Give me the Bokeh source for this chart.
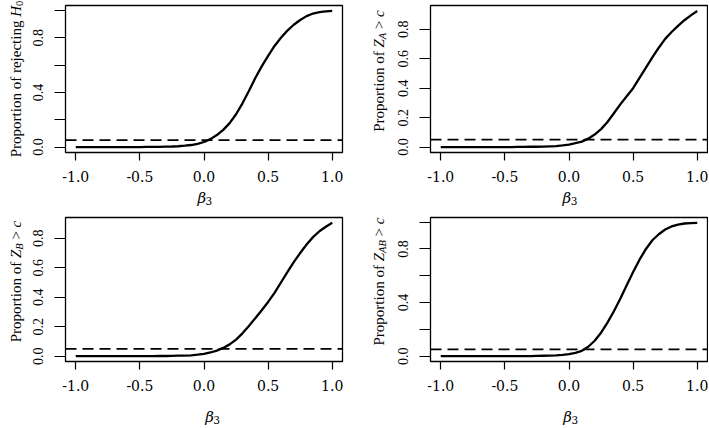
import math
from bokeh.plotting import figure
from bokeh.models import Range1d, FixedTicker, PrintfTickFormatter, Span
from bokeh.layouts import column, row
from bokeh.core.properties import value
from bokeh.embed import file_html
from bokeh.resources import INLINE

# ---------------- data ----------------
beta3 = [-1.00, -0.95, -0.90, -0.85, -0.80, -0.75, -0.70, -0.65, -0.60, -0.55,
         -0.50, -0.45, -0.40, -0.35, -0.30, -0.25, -0.20, -0.15, -0.10, -0.05,
         0.00, 0.05, 0.10, 0.15, 0.20, 0.25, 0.30, 0.35, 0.40, 0.45,
         0.50, 0.55, 0.60, 0.65, 0.70, 0.75, 0.80, 0.85, 0.90, 0.95, 1.00]

prop_reject_H0 = [0.000, 0.000, 0.000, 0.000, 0.000, 0.000, 0.000, 0.000, 0.000, 0.000,
                  0.000, 0.001, 0.001, 0.002, 0.003, 0.004, 0.006, 0.010, 0.015, 0.024,
                  0.037, 0.058, 0.088, 0.126, 0.175, 0.240, 0.320, 0.410, 0.505, 0.590,
                  0.667, 0.740, 0.800, 0.852, 0.895, 0.930, 0.958, 0.977, 0.988, 0.993, 0.996]

prop_ZA = [0.000, 0.000, 0.000, 0.000, 0.000, 0.000, 0.000, 0.000, 0.000, 0.000,
           0.000, 0.000, 0.001, 0.001, 0.002, 0.002, 0.003, 0.005, 0.007, 0.011,
           0.017, 0.026, 0.037, 0.057, 0.085, 0.122, 0.170, 0.230, 0.290, 0.345,
           0.400, 0.470, 0.540, 0.610, 0.675, 0.735, 0.782, 0.824, 0.862, 0.895, 0.925]

prop_ZB = [0.000, 0.000, 0.000, 0.000, 0.000, 0.000, 0.000, 0.000, 0.000, 0.000,
           0.000, 0.000, 0.000, 0.001, 0.001, 0.002, 0.003, 0.004, 0.006, 0.010,
           0.016, 0.025, 0.038, 0.056, 0.080, 0.112, 0.155, 0.205, 0.258, 0.312,
           0.368, 0.430, 0.500, 0.570, 0.638, 0.700, 0.758, 0.808, 0.848, 0.878, 0.905]

prop_ZAB = [0.000, 0.000, 0.000, 0.000, 0.000, 0.000, 0.000, 0.000, 0.000, 0.000,
            0.000, 0.000, 0.000, 0.001, 0.001, 0.002, 0.003, 0.004, 0.006, 0.010,
            0.016, 0.025, 0.040, 0.070, 0.115, 0.175, 0.250, 0.335, 0.428, 0.530,
            0.628, 0.720, 0.800, 0.865, 0.910, 0.945, 0.968, 0.982, 0.990, 0.993, 0.995]

alpha_level = 0.05

x_ticks = [-1.0, -0.5, 0.0, 0.5, 1.0]
y_ticks_sparse = [0.0, 0.4, 0.8]
y_ticks_sparse_minor = [0.2, 0.6, 1.0]
y_ticks_dense = [0.0, 0.2, 0.4, 0.6, 0.8]

# y-axis label pieces: (text, italic, subscript)
label_H0 = [("Proportion of rejecting ", False, False), ("H", True, False), ("0", False, True)]
label_ZA = [("Proportion of ", False, False), ("Z", True, False), ("A", True, True),
            (" > ", False, False), ("c", True, False)]
label_ZB = [("Proportion of ", False, False), ("Z", True, False), ("B", True, True),
            (" > ", False, False), ("c", True, False)]
label_ZAB = [("Proportion of ", False, False), ("Z", True, False), ("AB", True, True),
             (" > ", False, False), ("c", True, False)]

# ---------------- styling ----------------
SERIF = "Liberation Serif"
TICK_FONT_X = "DejaVu Serif"
MAIN = 15.0
SUB = 10.5
SUB_SHIFT = 3.5

TIMES_R = {' ': 250, 'P': 556, 'r': 333, 'o': 500, 'p': 500, 't': 278, 'i': 278, 'n': 500,
           'f': 333, 'e': 444, 'j': 278, 'c': 444, 'g': 500, '>': 564, '0': 500}
TIMES_I = {'H': 722, 'Z': 556, 'A': 611, 'B': 611, 'c': 444}


def text_width(t, size, italic):
    table = TIMES_I if italic else TIMES_R
    return sum(table.get(ch, 500) for ch in t) * size / 1000.0


def strip(w, h):
    s = figure(width=w, height=h, x_range=Range1d(0, w), y_range=Range1d(0, h),
               output_backend="svg", toolbar_location=None,
               x_axis_type=None, y_axis_type=None, min_border=0)
    s.outline_line_color = None
    s.background_fill_color = "white"
    s.border_fill_color = "white"
    return s


def ylabel_strip(w, h, pieces, base_x, center_from_top, lift):
    s = strip(w, h)
    sizes = [SUB if sub else MAIN for (_, _, sub) in pieces]
    widths = [text_width(t, sz, it) for (t, it, _), sz in zip(pieces, sizes)]
    total = sum(widths)
    c = (h - center_from_top) + lift
    pos = c - total / 2.0
    for (t, it, sub), sz, wd in zip(pieces, sizes, widths):
        lead = len(t) - len(t.lstrip())
        adv = text_width(t[:lead], sz, it)
        s.text(x=[base_x + (SUB_SHIFT if sub else 0.0)], y=[pos + adv], text=[t.strip()],
               angle=math.pi / 2, text_align="left", text_baseline="alphabetic",
               text_font=value(SERIF), text_font_size=value(f"{sz}px"),
               text_font_style="italic" if it else "normal", text_color="black")
        pos += wd
    return s


def xlabel_strip(w, h, center_x, base_from_top):
    s = strip(w, h)
    beta_w = 9.5
    three_w = 6.7
    start = center_x - (beta_w + three_w) / 2.0
    by = h - base_from_top
    s.text(x=[start], y=[by], text=["β"], text_align="left", text_baseline="alphabetic",
           text_font=value("DejaVu Serif"), text_font_size=value("15px"),
           text_font_style="italic", text_color="black")
    s.text(x=[start + beta_w], y=[by - 3.0], text=["3"], text_align="left",
           text_baseline="alphabetic", text_font=value("DejaVu Serif"),
           text_font_size=value("10.5px"), text_color="black")
    return s


def make_core(yvals, yticks, yminor, borders, frame_w, frame_h):
    xlo, xhi = min(beta3), max(beta3)
    ylo, yhi = min(yvals), max(yvals)
    xpad = 0.04 * (xhi - xlo)
    ypad = 0.04 * (yhi - ylo)
    left, right, top, bottom = borders
    p = figure(width=left + frame_w + right, height=top + frame_h + bottom,
               output_backend="svg", toolbar_location=None,
               x_range=Range1d(xlo - xpad, xhi + xpad), y_range=Range1d(ylo - ypad, yhi + ypad),
               min_border_left=left, min_border_right=right,
               min_border_top=top, min_border_bottom=bottom)
    p.background_fill_color = "white"
    p.border_fill_color = "white"
    p.outline_line_color = "black"
    p.outline_line_width = 1.3
    p.outline_line_alpha = 1.0
    p.grid.visible = False

    p.line(beta3, yvals, line_color="black", line_width=2.3)
    p.add_layout(Span(location=alpha_level, dimension="width", line_color="black",
                      line_width=1.8, line_dash="11 6"))

    xa = p.xaxis[0]
    xa.ticker = FixedTicker(ticks=x_ticks)
    xa.formatter = PrintfTickFormatter(format="%.1f")
    xa.axis_line_color = None
    xa.major_tick_out = 8
    xa.major_tick_in = 0
    xa.major_tick_line_width = 1.2
    xa.minor_tick_line_color = None
    xa.major_label_standoff = 10
    xa.major_label_text_font = TICK_FONT_X
    xa.major_label_text_font_size = "14px"
    xa.major_label_text_color = "black"

    ya = p.yaxis[0]
    ya.ticker = FixedTicker(ticks=yticks, minor_ticks=yminor)
    ya.formatter = PrintfTickFormatter(format="%.1f")
    ya.axis_line_color = None
    ya.major_tick_out = 11
    ya.major_tick_in = 0
    ya.minor_tick_out = 11
    ya.minor_tick_in = 0
    ya.major_tick_line_width = 1.2
    ya.minor_tick_line_width = 1.2
    ya.minor_tick_line_color = "black" if yminor else None
    ya.major_label_orientation = "parallel"
    ya.major_label_standoff = 11
    ya.major_label_text_font = SERIF
    ya.major_label_text_font_size = "14px"
    ya.major_label_text_color = "black"
    return p


FW = 277
# top row
c1 = make_core(prop_reject_H0, y_ticks_sparse, y_ticks_sparse_minor, (39, 8, 5, 34), FW, 147)
c2 = make_core(prop_ZA, y_ticks_dense, [], (40, 1, 5, 34), FW, 147)
yl1 = ylabel_strip(26, 208, label_H0, 15, 78.5, 0)
yl2 = ylabel_strip(40, 208, label_ZA, 28, 78.5, 8)
xl1 = xlabel_strip(324, 22, 39 + FW / 2 - 15, 11)
xl2 = xlabel_strip(318, 22, 40 + FW / 2 - 19, 11)

# bottom row
c3 = make_core(prop_ZB, y_ticks_dense, [], (39, 8, 9, 34), FW, 144)
c4 = make_core(prop_ZAB, y_ticks_sparse, y_ticks_sparse_minor, (40, 1, 9, 34), FW, 144)
yl3 = ylabel_strip(26, 219, label_ZB, 15, 81, 8)
yl4 = ylabel_strip(40, 219, label_ZAB, 28, 81, 8)
xl3 = xlabel_strip(324, 32, 39 + FW / 2 - 6, 21)
xl4 = xlabel_strip(318, 32, 40 + FW / 2 - 18, 21)

top = row(yl1, column(c1, xl1), yl2, column(c2, xl2))
bottom = row(yl3, column(c3, xl3), yl4, column(c4, xl4))
layout = column(top, bottom)

open("out.html", "w").write(file_html(layout, INLINE))
